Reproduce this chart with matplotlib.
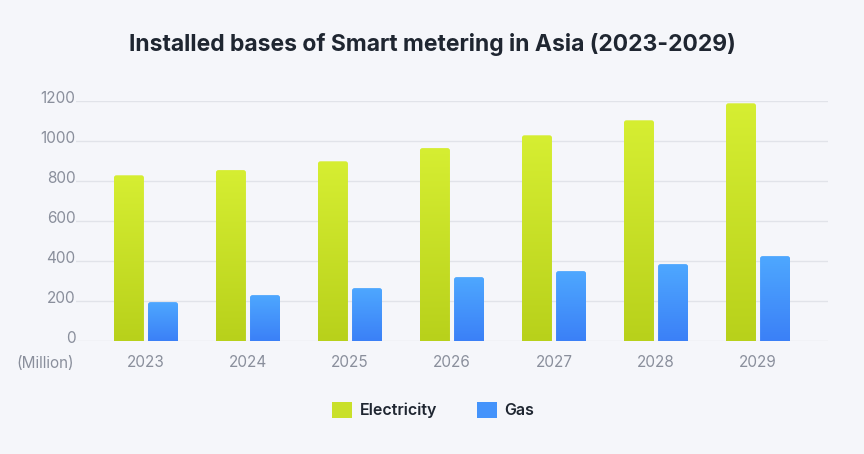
import numpy as np
import matplotlib.pyplot as plt
import matplotlib.transforms as mtransforms
from matplotlib.patches import FancyBboxPatch, Patch
from matplotlib.colors import LinearSegmentedColormap

years = ['2023', '2024', '2025', '2026', '2027', '2028', '2029']
electricity = [830, 856, 900, 966, 1030, 1105, 1190]
gas = [196, 231, 266, 321, 351, 386, 426]
y_ticks = [0, 200, 400, 600, 800, 1000, 1200]

plt.rcParams['font.family'] = ['Inter', 'DejaVu Sans']
bg = '#f5f6fa'
grid_c = '#e1e3e9'
tick_c = '#8a8f9c'
title_c = '#1f2631'

elec_cmap = LinearSegmentedColormap.from_list('elec', ['#b8d11b', '#d6ee32'])
gas_cmap = LinearSegmentedColormap.from_list('gas', ['#3b80f7', '#4ea8ff'])

fig = plt.figure(figsize=(8.64, 4.54), dpi=100, facecolor=bg)
ax = fig.add_axes([76 / 864, 112.7 / 454, 752 / 864, 240 / 454], facecolor=bg)

x = np.arange(len(years))
w = 0.294
off = 0.167
b1 = ax.bar(x - off, electricity, w, color='#c9e02a')
b2 = ax.bar(x + off, gas, w, color='#4493fb')

ax.set_xlim(-0.686, len(years) - 1 + 0.686)
ax.set_ylim(0, 1200)

# gradient fill with slightly rounded tops
grad = np.linspace(0, 1, 256).reshape(-1, 1)
for bars, cmap in [(b1, elec_cmap), (b2, gas_cmap)]:
    for r in bars:
        r.set_visible(False)
        x0, wd, h = r.get_x(), r.get_width(), r.get_height()
        clip = FancyBboxPatch((x0, -40), wd, h + 40,
                              boxstyle='round,pad=0,rounding_size=0.025',
                              mutation_aspect=480, transform=ax.transData,
                              facecolor='none', edgecolor='none')
        ax.add_patch(clip)
        im = ax.imshow(grad, cmap=cmap, origin='lower', aspect='auto',
                       extent=(x0, x0 + wd, 0, h), zorder=2)
        im.set_clip_path(clip)

ax.set_xlim(-0.686, len(years) - 1 + 0.686)
ax.set_ylim(0, 1200)

ax.set_yticks(y_ticks)
ax.set_yticklabels([str(v) for v in y_ticks])
ax.set_xticks(x)
ax.set_xticklabels(years)
ax.tick_params(axis='both', length=0, colors=tick_c, labelsize=11)
ax.tick_params(axis='x', pad=10)
ax.tick_params(axis='y', pad=0.5)
shift = mtransforms.ScaledTranslation(0, -1.5 / 100, fig.dpi_scale_trans)
for lab in ax.get_yticklabels():
    lab.set_verticalalignment('baseline')
    lab.set_transform(lab.get_transform() + shift)

ax.grid(axis='y', color=grid_c, linewidth=1)
ax.set_axisbelow(True)
for s in ax.spines.values():
    s.set_visible(False)

fig.text(74 / 864, 1 - 363 / 454, '(Million)', ha='right', va='center',
         fontsize=11, color=tick_c)

fig.text(0.5, 1 - 44.5 / 454, 'Installed bases of Smart metering in Asia (2023-2029)',
         ha='center', va='center', fontsize=16.5, fontweight='bold', color=title_c)

handles = [Patch(facecolor='#c9e02a', edgecolor='none', label='Electricity'),
           Patch(facecolor='#4493fb', edgecolor='none', label='Gas')]
fig.legend(handles=handles, loc='center', bbox_to_anchor=(433 / 864, 1 - 410 / 454),
           ncol=2, frameon=False, handlelength=1.25, handleheight=1.25,
           handletextpad=0.48, columnspacing=2.5,
           prop={'size': 11.5, 'weight': 'semibold'}, labelcolor=title_c)

fig.savefig('out.png', dpi=100, facecolor=bg)
